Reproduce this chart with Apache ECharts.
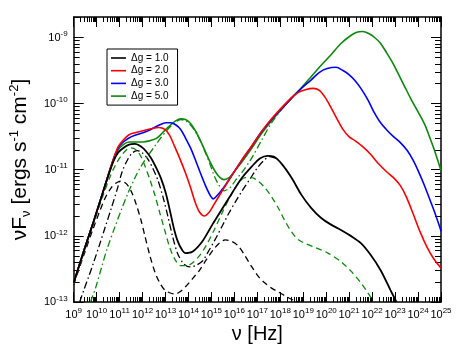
<!DOCTYPE html>
<html><head><meta charset="utf-8">
<script src="https://cdn.jsdelivr.net/npm/echarts@6.0.0/dist/echarts.min.js"></script>
<style>html,body{margin:0;padding:0;background:#fff}#c{width:463px;height:358px}</style>
</head><body><div id="c"></div>
<script>
// Axis decades (exponents of 10)
const xDecades = [9,10,11,12,13,14,15,16,17,18,19,20,21,22,23,24,25];
const yDecades = [-13,-12,-11,-10,-9];
const legendLabels = ['\u0394g = 1.0','\u0394g = 2.0','\u0394g = 3.0','\u0394g = 5.0'];

// Curves: [log10(nu/Hz), log10(nuF_nu)]
const blackTotal = [[9.00,-12.71],[9.43,-12.24],[9.86,-11.79],[10.29,-11.32],[10.72,-10.88],[10.94,-10.74],[11.16,-10.67],[11.41,-10.62],[11.67,-10.61],[11.93,-10.65],[12.15,-10.72],[12.36,-10.82],[12.58,-10.96],[12.79,-11.12],[13.01,-11.35],[13.18,-11.60],[13.36,-11.88],[13.53,-12.08],[13.70,-12.20],[13.87,-12.26],[14.17,-12.24],[14.61,-12.08],[15.04,-11.83],[15.47,-11.59],[15.90,-11.35],[16.33,-11.12],[16.76,-10.95],[17.11,-10.83],[17.45,-10.79],[17.71,-10.80],[18.06,-10.91],[18.49,-11.12],[18.92,-11.38],[19.35,-11.58],[19.78,-11.73],[20.21,-11.83],[20.64,-11.91],[21.07,-12.00],[21.51,-12.11],[21.94,-12.29],[22.37,-12.52],[22.80,-12.82],[23.06,-13.00]];
const redTotal = [[9.00,-12.71],[9.43,-12.24],[9.86,-11.79],[10.29,-11.32],[10.72,-10.85],[10.94,-10.65],[11.16,-10.55],[11.41,-10.47],[11.67,-10.44],[12.02,-10.41],[12.36,-10.38],[12.71,-10.36],[12.97,-10.39],[13.18,-10.48],[13.40,-10.65],[13.61,-10.82],[13.87,-11.05],[14.09,-11.27],[14.30,-11.50],[14.48,-11.64],[14.69,-11.70],[14.91,-11.64],[15.12,-11.52],[15.47,-11.32],[15.90,-11.08],[16.33,-10.85],[16.76,-10.64],[17.19,-10.42],[17.62,-10.23],[18.14,-10.03],[18.49,-9.91],[18.79,-9.83],[19.09,-9.79],[19.44,-9.77],[19.70,-9.80],[19.96,-9.91],[20.21,-10.06],[20.47,-10.23],[20.73,-10.39],[20.99,-10.50],[21.25,-10.56],[21.59,-10.65],[21.94,-10.77],[22.28,-10.91],[22.63,-11.03],[22.93,-11.12],[23.23,-11.24],[23.49,-11.41],[23.79,-11.67],[24.09,-11.94],[24.39,-12.17],[24.69,-12.35],[24.96,-12.47],[25.0,-12.48]];
const blueTotal = [[9.00,-12.71],[9.43,-12.24],[9.86,-11.79],[10.29,-11.32],[10.72,-10.85],[10.94,-10.67],[11.16,-10.58],[11.41,-10.52],[11.67,-10.48],[12.02,-10.44],[12.36,-10.39],[12.75,-10.32],[13.01,-10.29],[13.23,-10.29],[13.44,-10.32],[13.66,-10.39],[13.87,-10.52],[14.09,-10.67],[14.30,-10.85],[14.52,-11.05],[14.74,-11.24],[14.95,-11.39],[15.08,-11.44],[15.25,-11.39],[15.47,-11.30],[15.90,-11.08],[16.33,-10.85],[16.76,-10.64],[17.19,-10.42],[17.62,-10.24],[18.14,-10.05],[18.49,-9.92],[18.92,-9.77],[19.35,-9.64],[19.69,-9.53],[20.04,-9.47],[20.43,-9.45],[20.73,-9.50],[20.99,-9.56],[21.25,-9.65],[21.51,-9.77],[21.81,-9.94],[22.07,-10.12],[22.37,-10.29],[22.67,-10.41],[22.93,-10.50],[23.23,-10.59],[23.53,-10.71],[23.79,-10.86],[24.05,-11.05],[24.27,-11.23],[24.48,-11.42],[24.70,-11.62],[24.96,-11.88],[25.0,-11.93]];
const greenTotal = [[9.00,-12.71],[9.43,-12.24],[9.86,-11.79],[10.29,-11.32],[10.72,-10.86],[10.94,-10.70],[11.16,-10.62],[11.41,-10.58],[11.67,-10.58],[12.02,-10.58],[12.32,-10.56],[12.58,-10.53],[12.79,-10.47],[13.01,-10.39],[13.23,-10.32],[13.44,-10.26],[13.66,-10.23],[13.87,-10.24],[14.09,-10.30],[14.30,-10.41],[14.52,-10.56],[14.74,-10.73],[14.95,-10.89],[15.17,-11.03],[15.38,-11.12],[15.55,-11.15],[15.77,-11.12],[15.99,-11.03],[16.33,-10.88],[16.76,-10.67],[17.19,-10.45],[17.62,-10.26],[18.14,-10.05],[18.49,-9.91],[18.92,-9.76],[19.35,-9.59],[19.78,-9.42],[20.21,-9.26],[20.64,-9.09],[21.07,-8.97],[21.33,-8.92],[21.59,-8.91],[21.85,-8.94],[22.11,-9.00],[22.37,-9.09],[22.63,-9.23],[22.89,-9.38],[23.14,-9.55],[23.40,-9.73],[23.66,-9.91],[23.88,-10.05],[24.09,-10.18],[24.31,-10.33],[24.52,-10.52],[24.74,-10.73],[24.96,-10.97],[25.0,-11.01]];
const blackDashed = [[9.00,-12.74],[9.43,-12.30],[9.86,-11.88],[10.12,-11.64],[10.38,-11.42],[10.64,-11.27],[10.85,-11.20],[11.07,-11.17],[11.29,-11.21],[11.50,-11.32],[11.72,-11.52],[11.93,-11.76],[12.10,-12.00],[12.32,-12.30],[12.54,-12.55],[12.75,-12.71],[12.97,-12.82],[13.18,-12.86],[13.40,-12.88],[13.61,-12.85],[13.87,-12.77],[14.17,-12.65],[14.48,-12.52],[14.78,-12.36],[15.08,-12.21],[15.34,-12.11],[15.60,-12.06],[15.86,-12.08],[16.16,-12.15],[16.46,-12.30],[16.76,-12.47],[17.06,-12.62],[17.32,-12.71],[17.62,-12.79],[17.93,-12.85],[18.27,-12.92],[18.62,-12.98],[18.79,-13.00]];
const blackDashDot = [[9.26,-13.00],[9.43,-12.83],[9.65,-12.62],[9.86,-12.41],[10.12,-12.14],[10.38,-11.86],[10.64,-11.58],[10.90,-11.29],[11.11,-11.03],[11.33,-10.86],[11.54,-10.75],[11.76,-10.71],[11.98,-10.74],[12.23,-10.84],[12.45,-10.98],[12.67,-11.16],[12.88,-11.40],[13.10,-11.70],[13.31,-12.01],[13.53,-12.27],[13.79,-12.42],[14.05,-12.47],[14.30,-12.45],[14.61,-12.38],[14.91,-12.21],[15.17,-12.05],[15.47,-11.85],[15.77,-11.65],[16.07,-11.47],[16.37,-11.30],[16.68,-11.14],[16.98,-10.98],[17.28,-10.86],[17.54,-10.80],[17.84,-10.83]];
const greenDashed = [[9.00,-12.73],[9.43,-12.27],[9.86,-11.82],[10.29,-11.38],[10.60,-11.09],[10.85,-10.91],[11.07,-10.79],[11.29,-10.70],[11.50,-10.67],[11.72,-10.70],[11.93,-10.80],[12.10,-10.94],[12.32,-11.15],[12.54,-11.39],[12.75,-11.65],[12.97,-11.92],[13.18,-12.17],[13.40,-12.35],[13.66,-12.45],[13.92,-12.45],[14.17,-12.41],[14.48,-12.30],[14.78,-12.14],[15.12,-11.91],[15.47,-11.65],[15.81,-11.41],[16.16,-11.21],[16.46,-11.12],[16.76,-11.12],[17.06,-11.18],[17.32,-11.27],[17.62,-11.41],[17.93,-11.59],[18.18,-11.76],[18.49,-11.94],[18.79,-12.06],[19.13,-12.12],[19.56,-12.18],[20.08,-12.26],[20.64,-12.39],[21.07,-12.53],[21.51,-12.71],[21.81,-12.86],[22.07,-13.00]];
const greenDashDot = [[9.73,-13.00],[9.95,-12.79],[10.21,-12.48],[10.47,-12.18],[10.77,-11.89],[11.07,-11.61],[11.37,-11.35],[11.67,-11.12],[11.93,-10.95],[12.23,-10.79],[12.54,-10.64],[12.79,-10.52],[13.10,-10.39],[13.36,-10.30],[13.66,-10.24],[13.92,-10.27],[14.17,-10.36],[14.43,-10.50],[14.69,-10.70],[14.91,-10.89],[15.12,-11.09],[15.34,-11.24],[15.55,-11.32],[15.81,-11.27],[16.07,-11.15],[16.37,-11.02],[16.76,-10.82],[17.19,-10.55],[17.62,-10.29],[18.14,-10.05],[18.49,-9.91]];

const toLin = arr => arr.map(p => [Math.pow(10, p[0]), Math.pow(10, p[1])]);
const pw = e => Math.pow(10, e);

const xMajor = xDecades.map(pw);
const yMajor = yDecades.map(pw);
const xMinor = [], yMinor = [];
for (let i = 0; i < xDecades.length - 1; i++) for (let m = 2; m <= 9; m++) xMinor.push(m * pw(xDecades[i]));
for (let i = 0; i < yDecades.length; i++) for (let m = 2; m <= 9; m++) yMinor.push(m * pw(yDecades[i]));

const FONT = 'Liberation Sans';
const X_MIN = 1e9, X_MAX = 1e25, Y_MIN = 1e-13, Y_MAX = Math.pow(10, -8.69);
const fmtPow = v => '{b|10}{s|' + Math.round(Math.log10(v)) + '}';
const powRich = {
  b: {fontSize: 11, fontFamily: FONT, color: '#000', lineHeight: 15},
  s: {fontSize: 8, fontFamily: FONT, color: '#000', lineHeight: 8, verticalAlign: 'top'}
};
const line = {show: true, lineStyle: {color: '#000', width: 1.5}};

function xAx(pos, major, labels) {
  return {
    type: 'log', position: pos, min: X_MIN, max: X_MAX, logBase: 10,
    axisLine: major ? line : {show: false},
    axisTick: {show: true, inside: true, length: major ? 10 : 5, customValues: major ? xMajor : xMinor, lineStyle: {color: '#000', width: 1}},
    axisLabel: labels ? {show: true, customValues: xMajor, formatter: fmtPow, rich: powRich, margin: 5} : {show: false},
    splitLine: {show: false}, minorTick: {show: false}
  };
}
function yAx(pos, major, labels) {
  return {
    type: 'log', position: pos, min: Y_MIN, max: Y_MAX, logBase: 10,
    axisLine: major ? line : {show: false},
    axisTick: {show: true, inside: true, length: major ? 10 : 6, customValues: major ? yMajor : yMinor, lineStyle: {color: '#000', width: 1}},
    axisLabel: labels ? {show: true, customValues: yMajor, formatter: fmtPow, rich: powRich, margin: 6} : {show: false},
    splitLine: {show: false}, minorTick: {show: false}
  };
}

const xAxes = [xAx('bottom', true, true), xAx('bottom', false, false), xAx('top', true, false), xAx('top', false, false)];
const yAxes = [yAx('left', true, true), yAx('left', false, false), yAx('right', true, false), yAx('right', false, false)];
xAxes[0].name = '\u03bd [Hz]';
xAxes[0].nameLocation = 'middle';
xAxes[0].nameGap = 19;
xAxes[0].nameTextStyle = {fontSize: 20, fontFamily: FONT, color: '#000'};
yAxes[0].name = '{t|\u03bdF}{sub|\u03bd}{t| [ergs s}{sup|-1}{t| cm}{sup|-2}{t|]}';
yAxes[0].nameLocation = 'middle';
yAxes[0].nameGap = 23;
yAxes[0].nameRotate = 90;
yAxes[0].nameTextStyle = {
  fontFamily: FONT, color: '#000',
  rich: {
    t: {fontSize: 21, fontFamily: FONT, color: '#000', lineHeight: 25},
    sub: {fontSize: 13, fontFamily: FONT, color: '#000', lineHeight: 13, verticalAlign: 'bottom'},
    sup: {fontSize: 13, fontFamily: FONT, color: '#000', lineHeight: 13, verticalAlign: 'top'}
  }
};

const GREEN = '#0b8a0b';
function mk(name, data, color, type, width, z) {
  return {
    name: name, type: 'line', data: toLin(data), symbol: 'none', smooth: 0.3,
    xAxisIndex: 0, yAxisIndex: 0, clip: true, z: z,
    lineStyle: {color: color, width: width, type: type},
    itemStyle: {color: color}, emphasis: {disabled: true}
  };
}
const DASH = [6, 4];
const DASHDOT = [7, 3, 1.5, 3];
const series = [
  mk('bd', blackDashed, '#000', DASH, 1.3, 2),
  mk('bdd', blackDashDot, '#000', DASHDOT, 1.3, 2),
  mk('gd', greenDashed, GREEN, DASH, 1.3, 2),
  mk('gdd', greenDashDot, GREEN, DASHDOT, 1.3, 2),
  mk(legendLabels[3], greenTotal, GREEN, 'solid', 1.6, 3),
  mk(legendLabels[2], blueTotal, '#0000ff', 'solid', 1.6, 4),
  mk(legendLabels[1], redTotal, '#ff0000', 'solid', 1.6, 5),
  mk(legendLabels[0], blackTotal, '#000', 'solid', 1.8, 6)
];

const chart = echarts.init(document.getElementById('c'), null, {renderer: 'canvas'});
chart.setOption({
  animation: false,
  backgroundColor: '#fff',
  grid: {left: 70, right: 22, top: 17, bottom: 56, containLabel: false},
  xAxis: xAxes,
  yAxis: yAxes,
  legend: {
    data: legendLabels, orient: 'vertical', left: 107, top: 49,
    icon: 'rect', itemWidth: 15, itemHeight: 1.6, itemGap: 0.7,
    padding: [3, 9, 3, 4], borderColor: '#000', borderWidth: 1,
    textStyle: {fontSize: 10, fontFamily: FONT, color: '#000', lineHeight: 12},
    backgroundColor: '#fff'
  },
  series: series
});
</script>
</body></html>
